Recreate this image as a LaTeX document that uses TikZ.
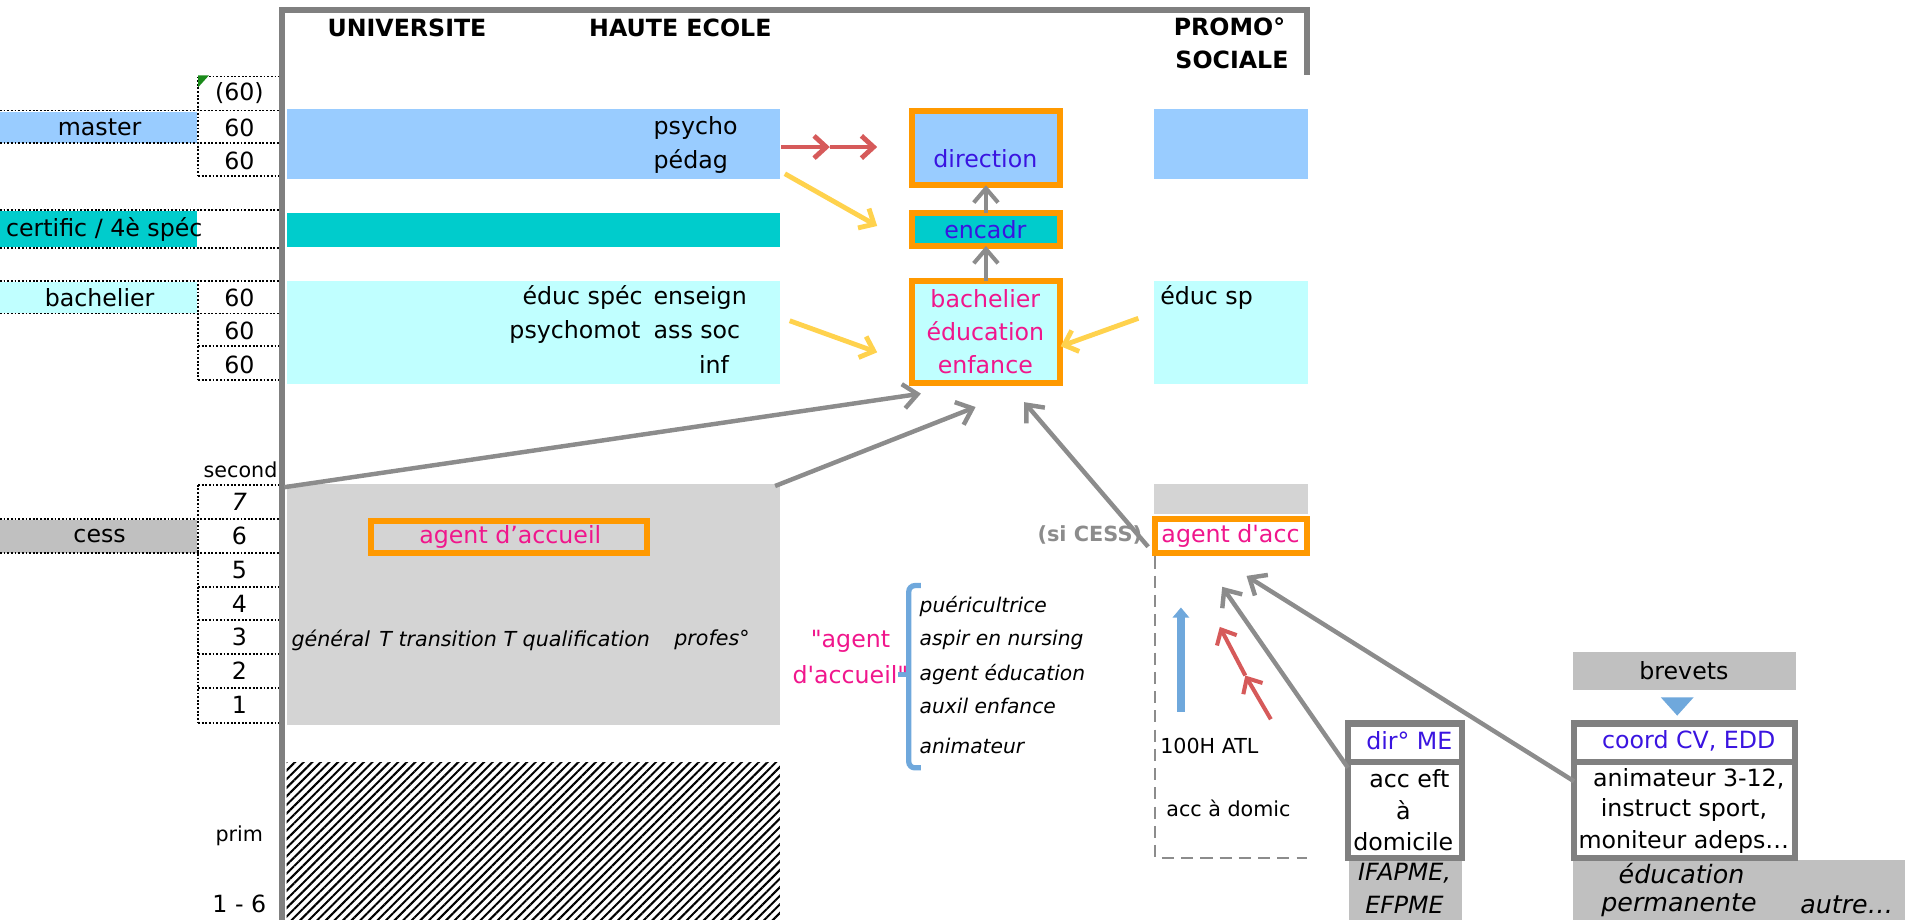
\documentclass[tikz,border=0pt]{standalone}
\usepackage{fontspec}
\setmainfont{DejaVu Sans}[Ligatures=TeXOff]
\usetikzlibrary{arrows.meta,fit,patterns.meta}
\definecolor{mblue}{HTML}{99CCFF}
\definecolor{mteal}{HTML}{00CCCC}
\definecolor{mcyan}{HTML}{C0FFFF}
\definecolor{mgrey}{HTML}{C0C0C0}
\definecolor{morange}{HTML}{FF9900}
\definecolor{mframe}{HTML}{808080}
\definecolor{mmag}{HTML}{F0168C}
\definecolor{mviolet}{HTML}{3A14E0}
\definecolor{mred}{HTML}{D65A5A}
\definecolor{myellow}{HTML}{FFD24D}
\definecolor{mlblue}{HTML}{6FA8DC}
\definecolor{marrow}{HTML}{8C8C8C}
\definecolor{mdither}{HTML}{D4D4D4}
\definecolor{mgreen}{HTML}{1A8A1A}
\begin{document}
\begin{tikzpicture}[x=0.6pt,y=-0.6pt,
  every node/.style={inner sep=0pt, outer sep=0pt},
  nf/.style={font=\fontsize{11.7}{14}\selectfont},
  sf/.style={font=\fontsize{10.2}{12}\selectfont},
  itf/.style={font=\fontsize{10}{12}\selectfont\itshape},
  bitf/.style={font=\fontsize{12.5}{14}\selectfont\itshape},
  hdf/.style={font=\fontsize{11.7}{14}\selectfont\bfseries},
  band/.style={draw=none},
  obox/.style={draw=morange, line width=3pt},
  gbox/.style={draw=mframe, line width=3pt},
  dotln/.style={line width=0.9pt, dash pattern=on 0.9pt off 0.9pt},
  frameln/.style={draw=mframe, line width=3pt},
  garrow/.style={draw=marrow, line width=2.2pt, -{Straight Barb[length=7pt,width=12pt]}},
  rarrow/.style={draw=mred, line width=2.4pt, -{Straight Barb[length=6pt,width=11pt]}},
  yarrow/.style={draw=myellow, line width=2.4pt, -{Straight Barb[length=6pt,width=11pt]}},
  barrow/.style={draw=mlblue, line width=4pt, -{Triangle[length=5pt,width=8pt]}},
  dashln/.style={draw=marrow, line width=1pt, dash pattern=on 6pt off 3.5pt},
]
\useasboundingbox (0,0) rectangle (1568,757);

% ---------- outer frame ----------
\draw[frameln] (232,770) -- (232,8) -- (1076,8) -- (1076,62);
\node[hdf] (hUni) at (335,23) {UNIVERSITE};
\node[hdf] (hHE) at (560,23) {HAUTE ECOLE};
\node[hdf] (hPS1) at (1012,22) {PROMO°};
\node[hdf] (hPS2) at (1014,49) {SOCIALE};

% ---------- left table ----------
\node[band, fill=mblue, fit={(0,92) (162,118)}] (lMaster) {};
\node[nf] (tMaster) at (82,105) {master};
\node[band, fill=mteal, fit={(0,174) (162,203)}] (lCert) {};
\node[nf, anchor=west] (tCert) at (5,189) {certific / 4è spéc};
\node[band, fill=mcyan, fit={(0,232) (162,258)}] (lBach) {};
\node[nf] (tBach) at (82,245) {bachelier};
\node[band, fill=mgrey, fit={(0,428) (162,455)}] (lCess) {};
\node[nf] (tCess) at (82,441) {cess};

% dotted rules
\draw[dotln] (163,63) -- (230,63);
\draw[dotln] (0,91) -- (230,91);
\draw[dotln] (0,118) -- (230,118);
\draw[dotln] (163,145) -- (230,145);
\draw[dotln] (163,63) -- (163,145);
\draw[dotln] (0,173) -- (230,173);
\draw[dotln] (0,204) -- (230,204);
\draw[dotln] (0,231) -- (230,231);
\draw[dotln] (0,258) -- (230,258);
\draw[dotln] (163,285) -- (230,285);
\draw[dotln] (163,313) -- (230,313);
\draw[dotln] (163,231) -- (163,313);
\draw[dotln] (163,399) -- (230,399);
\draw[dotln] (0,427) -- (230,427);
\draw[dotln] (0,455) -- (230,455);
\draw[dotln] (163,483) -- (230,483);
\draw[dotln] (163,510) -- (230,510);
\draw[dotln] (163,538) -- (230,538);
\draw[dotln] (163,566) -- (230,566);
\draw[dotln] (163,595) -- (230,595);
\draw[dotln] (163,399) -- (163,595);
\fill[mgreen] (163,62) -- (172,62) -- (163,72) -- cycle;

\node[nf] (c60a) at (197,77) {(60)};
\node[nf] (c60b) at (197,105) {60};
\node[nf] (c60c) at (197,132) {60};
\node[nf] (c60d) at (197,245) {60};
\node[nf] (c60e) at (197,272) {60};
\node[nf] (c60f) at (197,300) {60};
\node[sf] (tSecond) at (198,387) {second};
\node[nf, font=\fontsize{11.7}{14}\selectfont\itshape] (y7) at (197,413) {7};
\node[nf] (y6) at (197,441) {6};
\node[nf] (y5) at (197,469) {5};
\node[nf] (y4) at (197,497) {4};
\node[nf] (y3) at (197,524) {3};
\node[nf] (y2) at (197,552) {2};
\node[nf] (y1) at (197,580) {1};
\node[sf] (tPrim) at (197,688) {prim};
\node[nf] (tPrim16) at (197,744) {1 - 6};

% ---------- university / haute ecole bands ----------
\node[band, fill=mblue, fit={(236,90) (642,147)}] (bMaster) {};
\node[nf, anchor=west] (tPsycho) at (538,105) {psycho};
\node[nf, anchor=west] (tPedag) at (538,133) {pédag};
\node[band, fill=mteal, fit={(236,175) (642,203)}] (bCert) {};
\node[band, fill=mcyan, fit={(236,231) (642,316)}] (bBach) {};
\node[nf, anchor=east] (tEducSpec) at (529,245) {éduc spéc};
\node[nf, anchor=west] (tEnseign) at (538,245) {enseign};
\node[nf, anchor=east] (tPsychomot) at (527,273) {psychomot};
\node[nf, anchor=west] (tAssSoc) at (538,273) {ass soc};
\node[nf, anchor=east] (tInf) at (600,300) {inf};

\node[band, fill=mdither, fit={(236,398) (642,597)}] (bSec) {};
\node[obox, fit={(305.5,428.5) (532.5,455)}] (bAgent) {};
\node[nf, text=mmag] (tAgent) at (420,442) {agent d’accueil};
\node[itf, font=\fontsize{10.2}{12}\selectfont\itshape, anchor=west] (tFilieres) at (240,527) {général\hspace{0.45em}T transition T qualification};
\node[itf, font=\fontsize{10.2}{12}\selectfont\itshape, anchor=west] (tProfes) at (555,527) {profes°};

\node[band, pattern={Lines[angle=45,distance=3pt,line width=1pt]}, pattern color=black, fit={(236,628) (642,770)}] (bPrim) {};

% ---------- central column ----------
\node[obox, fill=mblue, fit={(750.5,91.5) (872.5,152.5)}] (nDir) {};
\node[nf, text=mviolet] (tDir) at (811,131) {direction};
\node[obox, fill=mteal, fit={(750.5,175.5) (872.5,202.5)}] (nEnc) {};
\node[nf, text=mviolet] (tEnc) at (811,189) {encadr};
\node[obox, fill=mcyan, fit={(750.5,231.5) (872.5,315.5)}] (nBee) {};
\node[nf, text=mmag] (tBee1) at (811,246) {bachelier};
\node[nf, text=mmag] (tBee2) at (811,273) {éducation};
\node[nf, text=mmag] (tBee3) at (811,300) {enfance};

\draw[garrow, line width=2pt] (nBee.north) -- (nEnc.south);
\draw[garrow, line width=2pt] (nEnc.north) -- (nDir.south);

% ---------- promotion sociale column ----------
\node[band, fill=mblue, fit={(950,90) (1077,147)}] (pMaster) {};
\node[band, fill=mcyan, fit={(950,231) (1077,316)}] (pBach) {};
\node[nf, anchor=west] (tEducSp) at (955,245) {éduc sp};
\node[band, fill=mdither, fit={(950,398) (1077,423)}] (pSec) {};
\node[obox, fill=white, fit={(950.5,427.5) (1075.5,455)}] (pAgent) {};
\node[nf, text=mmag, anchor=west] (tPAgent) at (956,441) {agent d'acc};
\node[sf, text=marrow, font=\fontsize{10.3}{12}\selectfont\bfseries] (tSiCess) at (897,440) {(si CESS)};
\coordinate (dashTop) at (951,458);
\coordinate (dashCorner) at (951,706);
\coordinate (dashEnd) at (1076,706);
\draw[dashln] (dashTop) -- (dashCorner) -- (dashEnd);
\node[sf, anchor=west] (t100H) at (955,614) {100H ATL};
\node[sf, anchor=west] (tAccDom) at (960,665) {acc à domic};

% ---------- bracket list ----------
\draw[mlblue, line width=2.6pt, rounded corners=3pt] (758,482) -- (748,482) -- (748,632) -- (758,632);
\draw[mlblue, line width=2.6pt] (748,555) -- (739,555);
\node[nf, text=mmag] (tQuote1) at (700,528) {"agent};
\node[nf, text=mmag] (tQuote2) at (700,555) {d'accueil"};
\node[itf, anchor=west] (l1) at (757,499) {puéricultrice};
\node[itf, anchor=west] (l2) at (757,527) {aspir en nursing};
\node[itf, anchor=west] (l3) at (757,555) {agent éducation};
\node[itf, anchor=west] (l4) at (757,581) {auxil enfance};
\node[itf, anchor=west] (l5) at (757,614) {animateur};

% ---------- bottom right boxes ----------
\node[band, fill=mgrey, fit={(1110,708) (1203,770)}] (gIfa) {};
\node[bitf, font=\fontsize{11.7}{14}\selectfont\itshape] (tIfa1) at (1156,719) {IFAPME,};
\node[bitf, font=\fontsize{11.7}{14}\selectfont\itshape] (tIfa2) at (1156,745) {EFPME};
\node[band, fill=mgrey, fit={(1295,708) (1568,770)}] (gEdu) {};
\node[bitf] (tEdu1) at (1384,719) {éducation};
\node[bitf] (tEdu2) at (1382,745) {permanente};
\node[bitf] (tAutre) at (1520,745) {autre…};

\node[gbox, fill=white, fit={(1109.5,595.5) (1203.5,706)}] (nDirME) {};
\draw[gbox] (1109.5,627) -- (1203.5,627);
\node[nf, text=mviolet] (tDirME) at (1160,610) {dir° ME};
\node[nf] (tAccEft) at (1160,641) {acc eft};
\node[nf] (tA) at (1155,667) {à};
\node[nf] (tDomicile) at (1155,693) {domicile};

\node[band, fill=mgrey, fit={(1295,537) (1478,568)}] (nBrevets) {};
\node[nf] (tBrevets) at (1386,552) {brevets};
\fill[mlblue] (1367,574) -- (1394,574) -- (1380.5,589) -- cycle;

\node[gbox, fill=white, fit={(1295.5,595.5) (1477.5,706)}] (nCoord) {};
\draw[gbox] (1295.5,627) -- (1477.5,627);
\node[nf, text=mviolet] (tCoord) at (1390,610) {coord CV, EDD};
\node[nf] (tAnim) at (1390,641) {animateur 3-12,};
\node[nf] (tInstr) at (1386,667) {instruct sport,};
\node[nf] (tMonit) at (1386,693) {moniteur adeps…};

% ---------- arrows ----------
\coordinate (rA0) at (643,121);
\coordinate (rA1) at (683,121);
\coordinate (rA2) at (722,121);
\draw[rarrow] (rA0) -- (rA1);
\draw[rarrow] (rA1) -- (rA2);

\coordinate (yA0) at (646,143);
\coordinate (yA1) at (722,186);
\draw[yarrow] (yA0) -- (yA1);
\coordinate (yB0) at (650,264);
\coordinate (yB1) at (722,290);
\draw[yarrow] (yB0) -- (yB1);
\coordinate (yC0) at (937,262);
\coordinate (yC1) at (873,285);
\draw[yarrow] (yC0) -- (yC1);

\coordinate (gA0) at (234,401);
\coordinate (gA1) at (758,324);
\draw[garrow] (gA0) -- (gA1);
\coordinate (gB0) at (638,400);
\coordinate (gB1) at (803,335);
\draw[garrow] (gB0) -- (gB1);
\coordinate (gC0) at (945,450);
\coordinate (gC1) at (843,331);
\draw[garrow] (gC0) -- (gC1);

\coordinate (bA0) at (972,586);
\coordinate (bA1) at (972,500);
\draw[barrow] (bA0) -- (bA1);
\coordinate (rB0) at (1046,592);
\coordinate (rB1) at (1025,556);
\coordinate (rB2) at (1004,516);
\draw[rarrow, line width=2pt] (rB0) -- (rB1);
\draw[rarrow, line width=2pt] (rB1) -- (rB2);

\coordinate (gD1) at (1006,483);
\draw[garrow] (nDirME.west |- 0,632) -- (gD1);
\coordinate (gE1) at (1026,474);
\draw[garrow] (nCoord.west |- 0,643) -- (gE1);
\end{tikzpicture}
\end{document}
